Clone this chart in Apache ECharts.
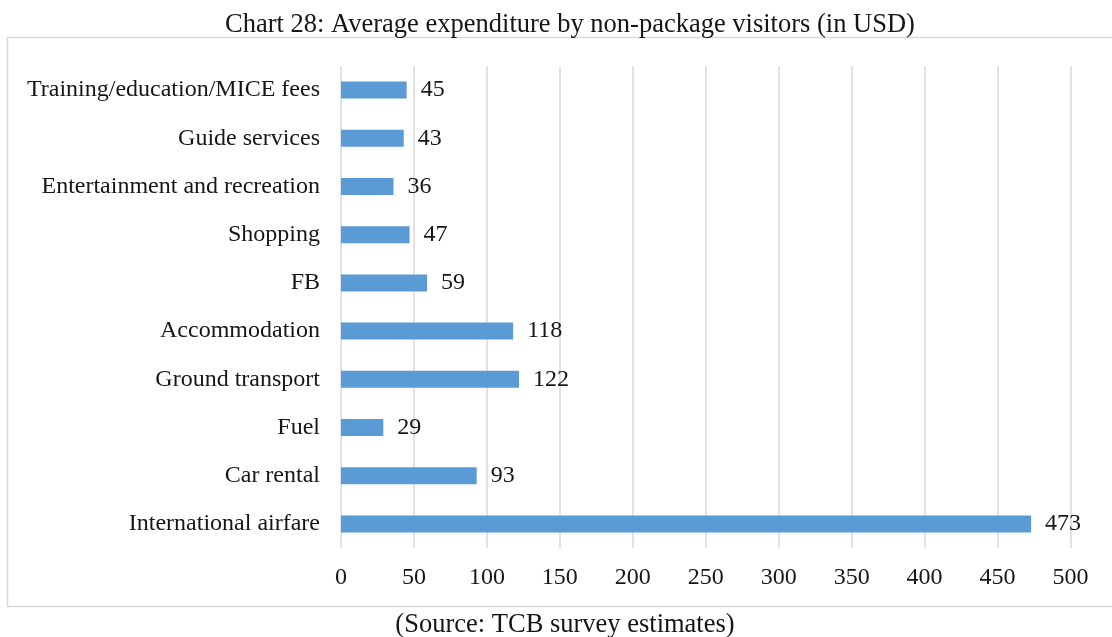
<!DOCTYPE html>
<html>
<head>
<meta charset="utf-8">
<script src="https://cdn.jsdelivr.net/npm/echarts@6/dist/echarts.min.js"></script>
<style>
  html, body { margin: 0; padding: 0; background: #fff; }
  #chart { width: 1112px; height: 637px; }
</style>
</head>
<body>
<div id="chart"></div>
<script>
// Spending categories, bottom to top as drawn on the category axis
const categories = [
  'International airfare',
  'Car rental',
  'Fuel',
  'Ground transport',
  'Accommodation',
  'FB',
  'Shopping',
  'Entertainment and recreation',
  'Guide services',
  'Training/education/MICE fees'
];
// Average spend per visitor (USD)
const values = [473, 93, 29, 122, 118, 59, 47, 36, 43, 45];
// Value axis range
const axisMin = 0;
const axisMax = 500;
const axisStep = 50;

const serif = '"Liberation Serif", "Times New Roman", serif';
const chart = echarts.init(document.getElementById('chart'), null, { renderer: 'canvas' });

chart.setOption({
  animation: false,
  backgroundColor: '#ffffff',
  title: {
    text: 'Chart 28: Average expenditure by non-package visitors (in USD)',
    left: 565,
    textAlign: 'center',
    top: 7,
    textStyle: { fontFamily: serif, fontSize: 26.5, fontWeight: 'normal', color: '#161616' }
  },
  graphic: [
    {
      type: 'rect',
      shape: { x: 7.5, y: 37.5, width: 1110, height: 569 },
      style: { fill: 'none', stroke: '#d9d9d9', lineWidth: 1.5 },
      silent: true,
      z: -1
    },
    {
      type: 'text',
      x: 565,
      y: 625,
      style: {
        text: '(Source: TCB survey estimates)',
        font: '26.5px ' + serif,
        fill: '#161616',
        textAlign: 'center',
        textVerticalAlign: 'middle'
      }
    }
  ],
  grid: { left: 341, right: 41.5, top: 66, bottom: 89, containLabel: false },
  xAxis: {
    type: 'value',
    min: axisMin,
    max: axisMax,
    interval: axisStep,
    axisLine: { show: false },
    axisTick: { show: false },
    splitLine: { show: true, lineStyle: { color: '#d9d9d9', width: 1.5 } },
    axisLabel: { fontFamily: serif, fontSize: 24, color: '#161616', margin: 18 }
  },
  yAxis: {
    type: 'category',
    data: categories,
    axisLine: { show: false },
    axisTick: { show: false },
    axisLabel: { fontFamily: serif, fontSize: 24, color: '#161616', margin: 21, padding: [4, 0, 0, 0] }
  },
  series: [{
    type: 'bar',
    data: values,
    barWidth: 17,
    itemStyle: { color: '#5b9bd5' },
    label: {
      show: true,
      position: 'right',
      distance: 14,
      padding: [4, 0, 0, 0],
      fontFamily: serif,
      fontSize: 24,
      color: '#161616'
    }
  }]
});
</script>
</body>
</html>
